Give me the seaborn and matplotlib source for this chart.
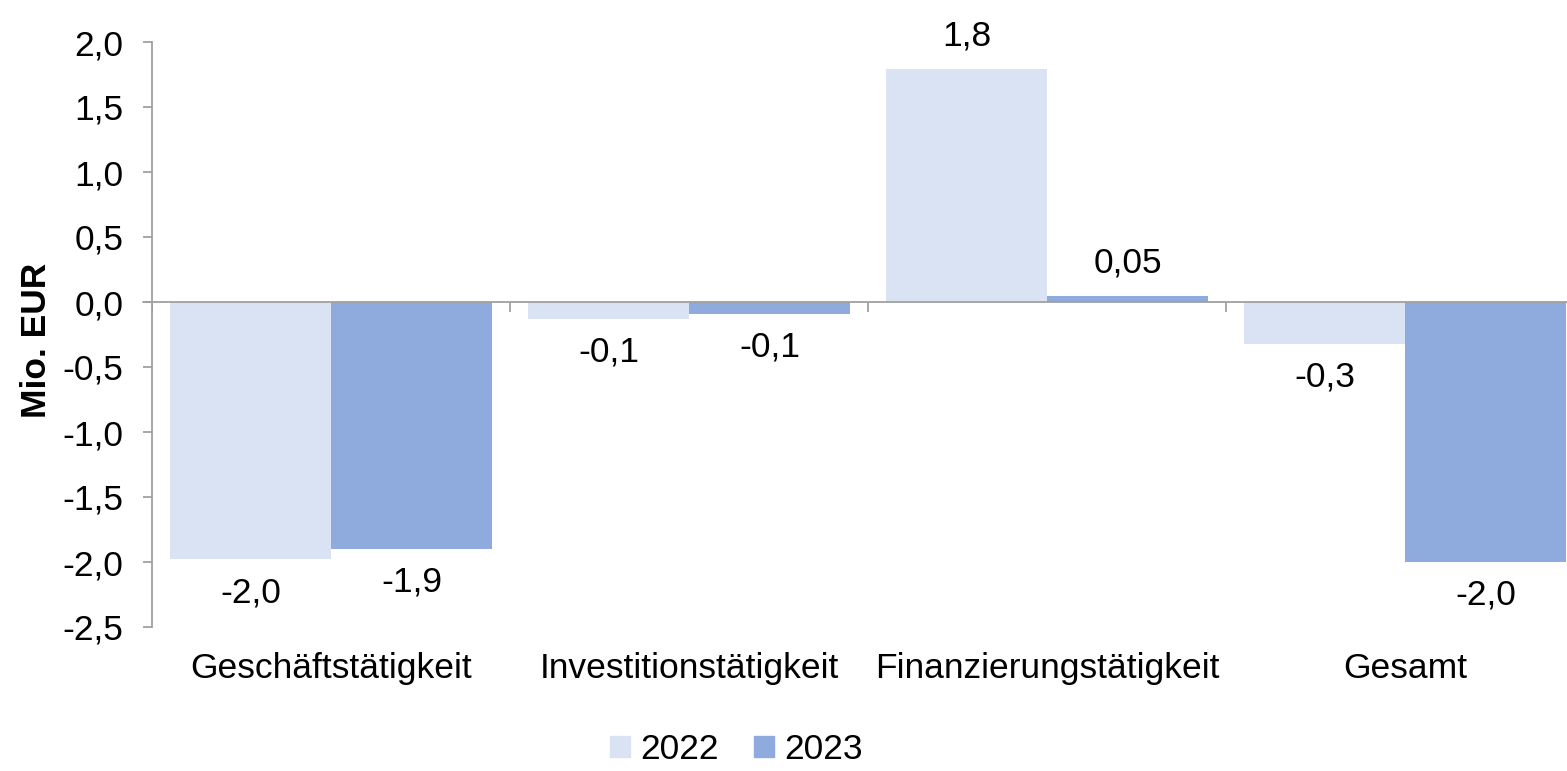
import numpy as np
import pandas as pd
import matplotlib
matplotlib.use("Agg")
import matplotlib.pyplot as plt
import seaborn as sns

# data
categories = ["Geschäftstätigkeit", "Investitionstätigkeit", "Finanzierungstätigkeit", "Gesamt"]
years = ["2022", "2023"]
values_2022 = [-1.98, -0.13, 1.79, -0.32]
values_2023 = [-1.90, -0.09, 0.046, -2.00]
labels_2022 = ["-2,0", "-0,1", "1,8", "-0,3"]
labels_2023 = ["-1,9", "-0,1", "0,05", "-2,0"]
colors = ["#DAE3F3", "#8FAADC"]

df = pd.DataFrame({
    "Kategorie": categories * 2,
    "Jahr": [years[0]] * 4 + [years[1]] * 4,
    "Wert": values_2022 + values_2023,
})

sns.set_style("white", {"text.color": "black", "axes.labelcolor": "black",
                        "xtick.color": "black", "ytick.color": "black"})
plt.rcParams["font.family"] = ["Liberation Sans", "DejaVu Sans"]
fs = 25.5

fig = plt.figure(figsize=(15.67, 7.71), dpi=100)
ax = fig.add_axes([152 / 1567, 144 / 771, 1432 / 1567, 585 / 771])

sns.barplot(data=df, x="Kategorie", y="Wert", hue="Jahr", palette=colors,
            width=0.9, saturation=1, linewidth=0, legend=False, ax=ax)

ax.set_xlim(-0.5, 3.5)
ax.set_ylim(-2.5, 2.0)

grey = "#A0A0A0"
for s in ["top", "right", "bottom"]:
    ax.spines[s].set_visible(False)
ax.spines["left"].set_color(grey)
ax.spines["left"].set_linewidth(1.3)
ax.axhline(0, color=grey, lw=1.3, zorder=3)
ax.vlines([-0.5, 0.5, 1.5, 2.5], -0.075, 0, color=grey, lw=1.3, zorder=3)
# little stub of the zero line left of the axis
ax.plot([-0.525, -0.5], [0, 0], color=grey, lw=1.3, clip_on=False)

yt = np.arange(-2.5, 2.01, 0.5)
ax.set_yticks(yt)
ax.set_yticklabels([f"{t:.1f}".replace(".", ",") for t in yt], fontsize=fs)
ax.tick_params(axis="y", left=True, length=6.5, width=1.3, color=grey,
               labelcolor="black", pad=14)
ax.tick_params(axis="x", length=0, pad=18, labelsize=fs, labelcolor="black")
ax.set_xlabel("")
ax.set_ylabel("Mio. EUR", fontsize=fs, fontweight="bold")
ax.yaxis.set_label_coords(-0.069, 0.49)

for cont, labs in zip(ax.containers, [labels_2022, labels_2023]):
    ax.bar_label(cont, labels=labs, padding=12, fontsize=fs, color="black")

handles = [plt.Rectangle((0, 0), 1, 1, color=c) for c in colors]
fig.legend(handles, years, loc="center", bbox_to_anchor=(0.47, 0.028), ncol=2,
           frameon=False, fontsize=fs, handlelength=0.55, handleheight=0.55,
           handletextpad=0.3, columnspacing=1.0)

fig.savefig("out.png", dpi=100)
